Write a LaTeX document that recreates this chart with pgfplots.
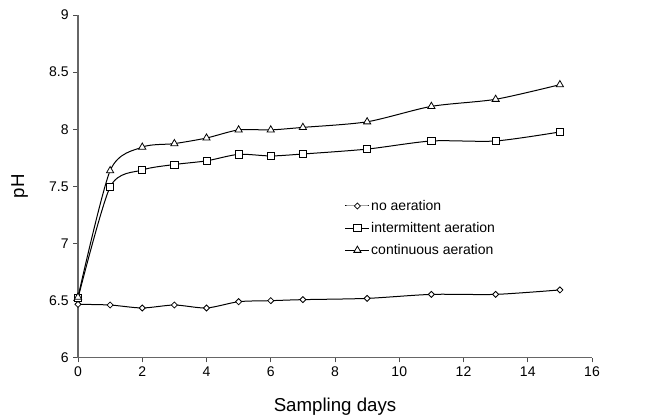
\documentclass[border=0pt]{standalone}
\usepackage{pgfplots}
\pgfplotsset{compat=1.18}
\usepackage{fontspec}
\setmainfont{Liberation Sans}
\begin{document}
\begin{tikzpicture}
\begin{axis}[
  scale only axis,
  width=385.5pt, height=257pt,
  xmin=0, xmax=16, ymin=6, ymax=9,
  xtick={0,2,...,16},
  ytick={6,6.5,7,7.5,8,8.5,9},
  axis lines=left,
  axis line style={-, draw=black!60, line width=0.8pt},
  tick style={draw=black!70, line width=0.6pt},
  tick align=outside,
  major tick length=3.5pt,
  /pgf/number format/assume math mode=true,
  tick label style={font=\fontsize{10.5}{12}\selectfont},
  label style={font=\fontsize{14}{16}\selectfont},
  xlabel={Sampling days},
  ylabel={pH},
  xlabel style={at={(axis description cs:0.5,0)}, anchor=north, yshift=-26.5pt},
  ylabel style={at={(axis description cs:0,0.5)}, anchor=south, yshift=34pt},
  clip=false,
  legend style={draw=none, fill=none, at={(axis cs:8.3,7.395)}, anchor=north west,
    font=\fontsize{10.5}{12}\selectfont, row sep=5.5pt, inner sep=0pt,
    nodes={inner sep=1pt}},
  legend cell align=left,
  legend image code/.code={
    \draw[#1, mark repeat=2, mark phase=2] plot coordinates {(0pt,0pt) (9pt,0pt) (18pt,0pt)};
  },
  every axis plot/.append style={black, line width=0.75pt, smooth, tension=0.45},
]
\addplot[mark=square*, mark size=1.6pt, mark options={rotate=45, fill=white, line width=0.6pt}]
  coordinates {(0,6.467) (1,6.461) (2,6.435) (3,6.461) (4,6.435) (5,6.49) (6,6.499) (7,6.508) (9,6.519) (11,6.554) (13,6.554) (15,6.593)};
\addlegendentry{no aeration}
\addplot[mark=square*, mark size=2.7pt, mark options={fill=white, line width=0.6pt}]
  coordinates {(0,6.52) (1,7.494) (2,7.643) (3,7.691) (4,7.723) (5,7.78) (6,7.766) (7,7.783) (9,7.826) (11,7.897) (13,7.897) (15,7.976)};
\addlegendentry{intermittent aeration}
\addplot[mark=triangle*, mark size=3.1pt, mark options={fill=white, line width=0.6pt}]
  coordinates {(0,6.53) (1,7.637) (2,7.843) (3,7.874) (4,7.923) (5,7.994) (6,7.994) (7,8.016) (9,8.065) (11,8.2) (13,8.262) (15,8.39)};
\addlegendentry{continuous aeration}
\end{axis}
\pgfresetboundingbox
\path[use as bounding box] ([xshift=-58.5pt,yshift=-43.5pt]current axis.south west) rectangle ([xshift=44.25pt,yshift=11.25pt]current axis.north east);
\end{tikzpicture}
\end{document}
